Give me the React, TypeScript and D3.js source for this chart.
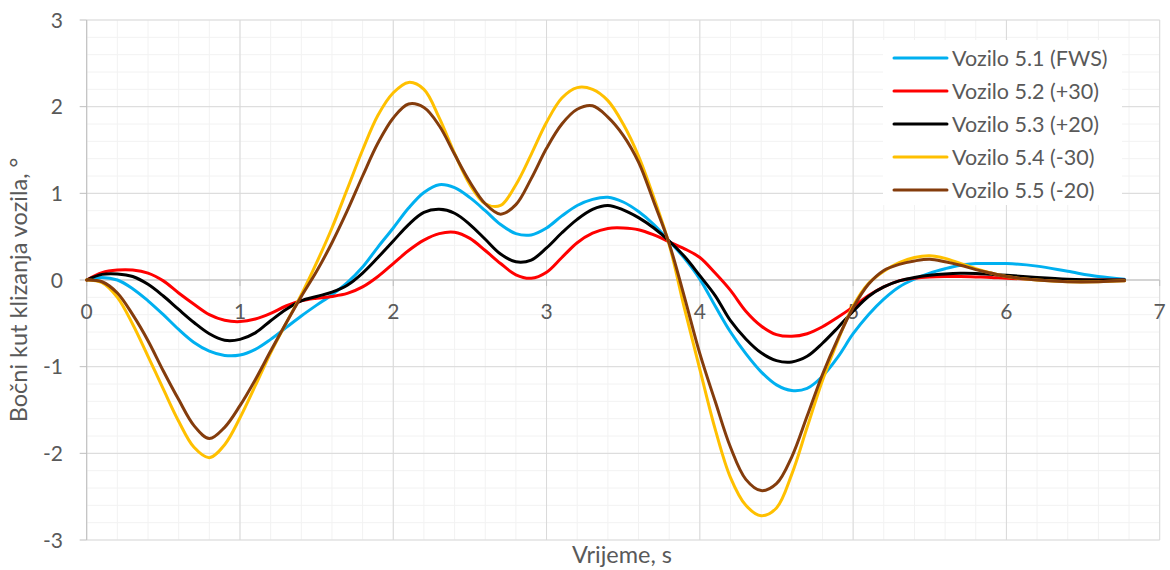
import React from "react";
import * as d3 from "d3";

const time = [0, 0.1, 0.2, 0.3, 0.4, 0.5, 0.6, 0.7, 0.8, 0.9, 1.0, 1.1, 1.2, 1.3, 1.4, 1.5, 1.6, 1.7, 1.8, 1.9, 2.0, 2.1, 2.2, 2.3, 2.4, 2.5, 2.6, 2.7, 2.8, 2.9, 3.0, 3.1, 3.2, 3.3, 3.4, 3.5, 3.6, 3.7, 3.8, 3.9, 4.0, 4.1, 4.2, 4.3, 4.4, 4.5, 4.6, 4.7, 4.8, 4.9, 5.0, 5.1, 5.2, 5.3, 5.4, 5.5, 5.6, 5.7, 5.8, 5.9, 6.0, 6.2, 6.4, 6.6, 6.77];

const vozilo51 = [0, 0.03, 0.0, -0.1, -0.24, -0.4, -0.57, -0.72, -0.82, -0.87, -0.865, -0.8, -0.685, -0.55, -0.415, -0.29, -0.17, -0.03, 0.15, 0.38, 0.6, 0.83, 1.01, 1.1, 1.065, 0.95, 0.8, 0.64, 0.535, 0.52, 0.6, 0.74, 0.86, 0.93, 0.955, 0.9, 0.79, 0.64, 0.45, 0.25, 0.01, -0.3, -0.6, -0.85, -1.06, -1.21, -1.275, -1.25, -1.11, -0.89, -0.62, -0.4, -0.22, -0.08, 0.01, 0.08, 0.13, 0.17, 0.19, 0.19, 0.19, 0.16, 0.1, 0.04, 0.01];
const vozilo52 = [0, 0.085, 0.115, 0.115, 0.08, -0.01, -0.15, -0.28, -0.4, -0.465, -0.48, -0.45, -0.385, -0.3, -0.24, -0.21, -0.19, -0.155, -0.08, 0.04, 0.19, 0.34, 0.46, 0.535, 0.55, 0.48, 0.34, 0.19, 0.06, 0.02, 0.09, 0.26, 0.43, 0.54, 0.595, 0.6, 0.58, 0.52, 0.44, 0.36, 0.26, 0.08, -0.12, -0.36, -0.53, -0.63, -0.65, -0.62, -0.54, -0.43, -0.31, -0.18, -0.08, -0.01, 0.02, 0.035, 0.04, 0.04, 0.035, 0.03, 0.02, 0.01, 0.0, 0.0, 0.0];
const vozilo53 = [0, 0.065, 0.07, 0.04, -0.05, -0.185, -0.34, -0.49, -0.62, -0.695, -0.685, -0.61, -0.47, -0.34, -0.24, -0.19, -0.14, -0.06, 0.08, 0.26, 0.45, 0.64, 0.78, 0.815, 0.77, 0.64, 0.47, 0.3, 0.21, 0.23, 0.37, 0.545, 0.7, 0.815, 0.86, 0.81, 0.72, 0.6, 0.45, 0.27, 0.05, -0.18, -0.47, -0.68, -0.84, -0.93, -0.945, -0.88, -0.73, -0.55, -0.36, -0.19, -0.08, -0.01, 0.03, 0.055, 0.07, 0.077, 0.075, 0.065, 0.055, 0.03, 0.01, 0.0, 0.0];
const vozilo54 = [0, -0.03, -0.2, -0.51, -0.88, -1.26, -1.63, -1.93, -2.05, -1.9, -1.59, -1.22, -0.84, -0.5, -0.17, 0.2, 0.6, 1.05, 1.5, 1.9, 2.16, 2.28, 2.2, 1.87, 1.46, 1.1, 0.88, 0.86, 1.1, 1.45, 1.82, 2.1, 2.22, 2.2, 2.07, 1.8, 1.43, 0.95, 0.41, -0.33, -1.03, -1.72, -2.28, -2.6, -2.72, -2.63, -2.24, -1.7, -1.16, -0.7, -0.3, -0.04, 0.1, 0.2, 0.26, 0.28, 0.25, 0.19, 0.13, 0.08, 0.04, 0.0, -0.02, -0.02, -0.01];
const vozilo55 = [0, -0.02, -0.15, -0.4, -0.7, -1.05, -1.38, -1.68, -1.83, -1.7, -1.45, -1.15, -0.82, -0.5, -0.19, 0.1, 0.43, 0.8, 1.2, 1.58, 1.87, 2.03, 1.99, 1.78, 1.45, 1.13, 0.88, 0.76, 0.87, 1.17, 1.52, 1.8, 1.97, 2.01, 1.88, 1.67, 1.36, 0.9, 0.42, -0.2, -0.85, -1.4, -1.93, -2.3, -2.43, -2.35, -2.04, -1.57, -1.09, -0.68, -0.32, -0.05, 0.11, 0.18, 0.22, 0.24, 0.21, 0.17, 0.12, 0.08, 0.04, 0.0, -0.02, -0.02, -0.01];

const seriesNames = ["Vozilo 5.1 (FWS)", "Vozilo 5.2 (+30)", "Vozilo 5.3 (+20)", "Vozilo 5.4 (-30)", "Vozilo 5.5 (-20)"];
const seriesValues = [vozilo51, vozilo52, vozilo53, vozilo54, vozilo55];
const seriesColors = ["#00B0F0", "#FF0000", "#000000", "#FFC000", "#843C0C"];

const xTicks = [0, 1, 2, 3, 4, 5, 6, 7];
const yTicks = [-3, -2, -1, 0, 1, 2, 3];
const xTitle = "Vrijeme, s";
const yTitle = "Bočni kut klizanja vozila, °";

const W = 1170;
const H = 570;
const M = { left: 86.7, right: 1159.7, top: 20, bottom: 540 };
const FONT = "Lato, 'Open Sans', sans-serif";
const TXT = "#595959";

export default function App() {
  const x = d3.scaleLinear().domain([0, 7]).range([M.left, M.right]);
  const y = d3.scaleLinear().domain([-3, 3]).range([M.bottom, M.top]);

  const minorX = d3.range(0, 7.0001, 0.2);
  const minorY = d3.range(-3, 3.0001, 0.2);

  const line = d3
    .line<[number, number]>()
    .x((d) => x(d[0]))
    .y((d) => y(d[1]))
    .curve(d3.curveCatmullRom.alpha(0.5));

  const legendX = 883;
  const legendY = 40;
  const legendRow = 33;

  return (
    <svg
      width={W}
      height={H}
      style={{ position: "absolute", left: 0, top: 0, background: "#fff" }}
      fontFamily={FONT}
    >
      <rect x={0} y={0} width={W} height={H} fill="#fff" />
      {minorX.map((v, i) => (
        <line key={"mx" + i} x1={x(v)} x2={x(v)} y1={M.top} y2={M.bottom} stroke="#f2f2f2" strokeWidth={1} />
      ))}
      {minorY.map((v, i) => (
        <line key={"my" + i} x1={M.left} x2={M.right} y1={y(v)} y2={y(v)} stroke="#f2f2f2" strokeWidth={1} />
      ))}
      {xTicks.map((v) => (
        <line key={"Mx" + v} x1={x(v)} x2={x(v)} y1={M.top} y2={M.bottom} stroke="#d9d9d9" strokeWidth={1} />
      ))}
      {yTicks.map((v) => (
        <line key={"My" + v} x1={M.left} x2={M.right} y1={y(v)} y2={y(v)} stroke="#d9d9d9" strokeWidth={1} />
      ))}
      <line x1={x(0)} x2={x(0)} y1={M.top} y2={M.bottom} stroke="#bfbfbf" strokeWidth={1} />
      <line x1={M.left} x2={M.right} y1={y(0)} y2={y(0)} stroke="#bfbfbf" strokeWidth={1} />
      {yTicks.map((v) => (
        <line key={"yt" + v} x1={x(0) - 7} x2={x(0)} y1={y(v)} y2={y(v)} stroke="#bfbfbf" strokeWidth={1} />
      ))}
      {xTicks.map((v) => (
        <line key={"xt" + v} x1={x(v)} x2={x(v)} y1={y(0)} y2={y(0) + 6} stroke="#bfbfbf" strokeWidth={1} />
      ))}
      {yTicks.map((v) => (
        <text key={"yl" + v} x={63} y={y(v)} dy="0.36em" textAnchor="end" fontSize={21} fill={TXT}>
          {v}
        </text>
      ))}
      {xTicks.map((v) => (
        <text key={"xl" + v} x={x(v)} y={y(0) + 39} textAnchor="middle" fontSize={21} fill={TXT}>
          {v}
        </text>
      ))}
      {seriesValues.map((vals, si) => {
        const pts: [number, number][] = time.map((t, i) => [t, vals[i]]);
        return (
          <path
            key={"s" + si}
            d={line(pts) || ""}
            fill="none"
            stroke={seriesColors[si]}
            strokeWidth={3}
            strokeLinejoin="round"
            strokeLinecap="round"
          />
        );
      })}
      <rect x={legendX} y={legendY} width={239} height={165} fill="#fff" />
      {seriesNames.map((name, i) => {
        const cy = 58 + i * legendRow;
        return (
          <g key={"lg" + i}>
            <line x1={894} x2={947} y1={cy} y2={cy} stroke={seriesColors[i]} strokeWidth={3} strokeLinecap="round" />
            <text x={952} y={cy} dy="0.36em" fontSize={21.5} fill={TXT}>
              {name}
            </text>
          </g>
        );
      })}
      <text x={622} y={563} textAnchor="middle" fontSize={23.5} fill={TXT}>
        {xTitle}
      </text>
      <text transform={`translate(27, 290) rotate(-90)`} textAnchor="middle" fontSize={23.5} fill={TXT}>
        {yTitle}
      </text>
    </svg>
  );
}
